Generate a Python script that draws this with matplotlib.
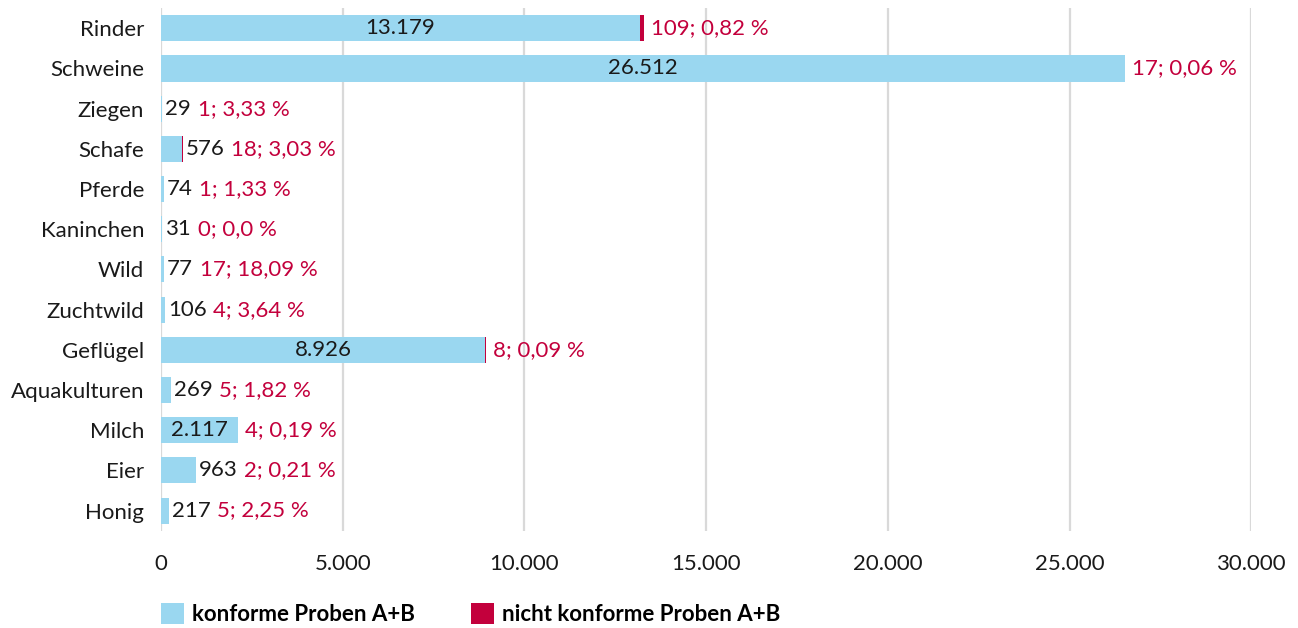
import matplotlib.pyplot as plt
import numpy as np

plt.rcParams['font.family'] = ['Lato', 'DejaVu Sans']

# Daten
kategorien = ['Rinder', 'Schweine', 'Ziegen', 'Schafe', 'Pferde', 'Kaninchen', 'Wild',
              'Zuchtwild', 'Geflügel', 'Aquakulturen', 'Milch', 'Eier', 'Honig']
konform = [13179, 26512, 29, 576, 74, 31, 77, 106, 8926, 269, 2117, 963, 217]
nicht_konform = [109, 17, 1, 18, 1, 0, 17, 4, 8, 5, 4, 2, 5]
anteil = ['0,82 %', '0,06 %', '3,33 %', '3,03 %', '1,33 %', '0,0 %', '18,09 %',
          '3,64 %', '0,09 %', '1,82 %', '0,19 %', '0,21 %', '2,25 %']
xticks = [0, 5000, 10000, 15000, 20000, 25000, 30000]
xticklabels = ['0', '5.000', '10.000', '15.000', '20.000', '25.000', '30.000']

blau = '#9AD7F0'
rot = '#C3003C'
schwarz = '#1a1a1a'
fs = 16

fig = plt.figure(figsize=(12.98, 6.28), dpi=100)
ax = fig.add_axes([0.124, 0.155, 0.840, 0.832])

y = np.arange(len(kategorien))
b1 = ax.barh(y, konform, height=0.65, color=blau, linewidth=0, label='konforme Proben A+B')
b2 = ax.barh(y, nicht_konform, left=konform, height=0.65, color=rot, linewidth=0,
             label='nicht konforme Proben A+B')

ax.set_xlim(0, 30000)
ax.set_ylim(len(kategorien) - 0.5, -0.5)
ax.set_yticks(y)
ax.set_yticklabels(kategorien, fontsize=fs, color=schwarz)
ax.set_xticks(xticks)
ax.set_xticklabels(xticklabels, fontsize=fs, color=schwarz)
ax.tick_params(axis='both', length=0)
ax.tick_params(axis='y', pad=12)
ax.tick_params(axis='x', pad=17)
for s in ax.spines.values():
    s.set_visible(False)
ax.grid(axis='x', color='#d9d9d9', linewidth=1.6)
ax.set_axisbelow(True)

# Beschriftungen
for i in range(len(kategorien)):
    k = konform[i]
    n = nicht_konform[i]
    wert = f'{k:,}'.replace(',', '.')
    rot_txt = f'{n}; {anteil[i]}'
    if k > 1500:
        ax.text(k / 2, i, wert, ha='center', va='center', fontsize=fs, color=schwarz)
        ax.annotate(rot_txt, xy=(k + n, i), xytext=(5, 0), textcoords='offset points',
                    ha='left', va='center', fontsize=fs, color=rot)
    else:
        t = ax.annotate(wert, xy=(k + n, i), xytext=(2, 0), textcoords='offset points',
                        ha='left', va='center', fontsize=fs, color=schwarz)
        ax.annotate(rot_txt, xy=(1, 0.5), xycoords=t, xytext=(5, 0),
                    textcoords='offset points', ha='left', va='center',
                    fontsize=fs, color=rot)

fig.legend(handles=[b1, b2], loc='lower left', bbox_to_anchor=(0.1083, -0.027),
           ncol=2, frameon=False, prop={'size': fs, 'weight': 'bold'},
           handlelength=1.04, handleheight=1.04, handletextpad=0.36, columnspacing=2.55)

plt.savefig('out.png', dpi=100)
